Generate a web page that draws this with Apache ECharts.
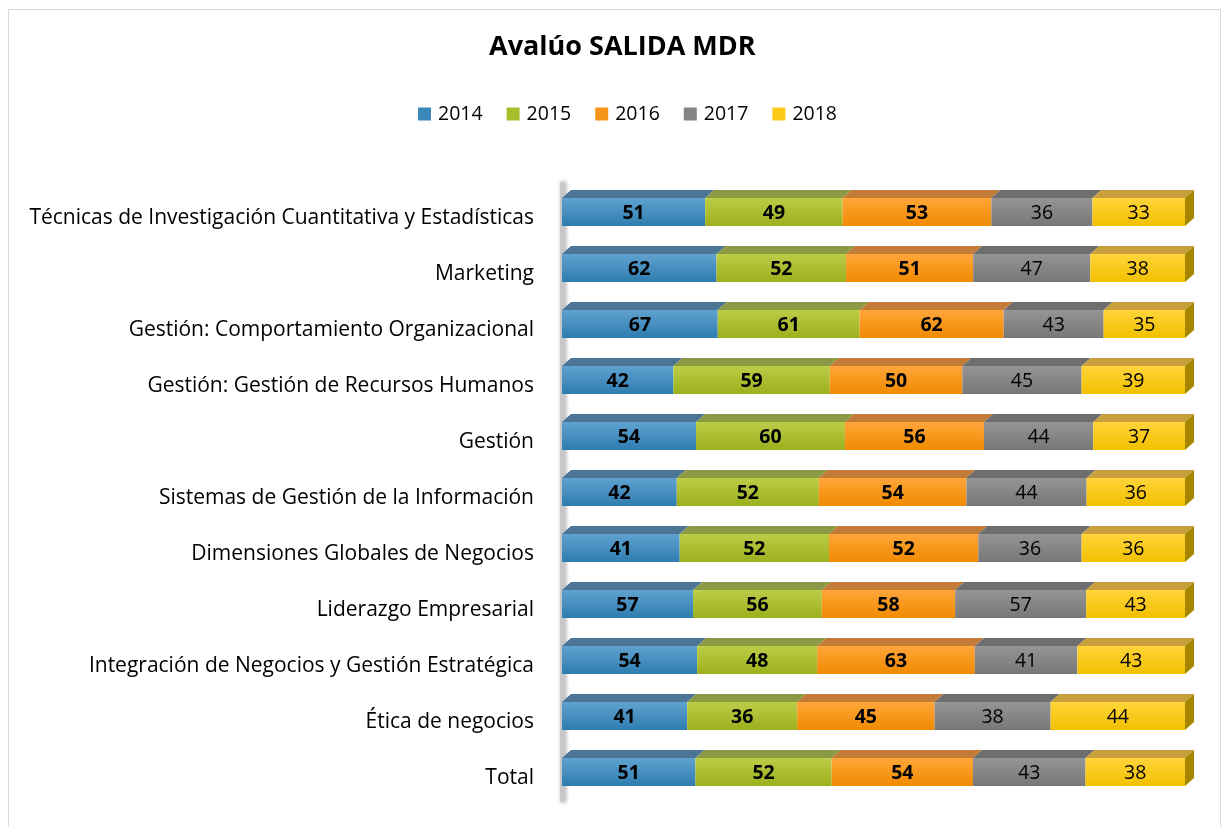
<!DOCTYPE html>
<html>
<head>
<meta charset="utf-8">
<script src="https://cdn.jsdelivr.net/npm/echarts@6/dist/echarts.min.js"></script>
<style>
html,body{margin:0;padding:0;background:#fff;}
#chart{width:1225px;height:827px;position:relative;}
#frame{position:absolute;left:8px;top:9px;width:1213px;height:830px;border:1px solid #d9d9d9;box-sizing:border-box;pointer-events:none;}
</style>
</head>
<body>
<div id="chart"></div>
<div id="frame"></div>
<script>
const categories = [
  "Técnicas de Investigación Cuantitativa y Estadísticas",
  "Marketing",
  "Gestión: Comportamiento Organizacional",
  "Gestión: Gestión de Recursos Humanos",
  "Gestión",
  "Sistemas de Gestión de la Información",
  "Dimensiones Globales de Negocios",
  "Liderazgo Empresarial",
  "Integración de Negocios y Gestión Estratégica",
  "Ética de negocios",
  "Total"
];
const years = ["2014", "2015", "2016", "2017", "2018"];
const v2014 = [51, 62, 67, 42, 54, 42, 41, 57, 54, 41, 51];
const v2015 = [49, 52, 61, 59, 60, 52, 52, 56, 48, 36, 52];
const v2016 = [53, 51, 62, 50, 56, 54, 52, 58, 63, 45, 54];
const v2017 = [36, 47, 43, 45, 44, 44, 36, 57, 41, 38, 43];
const v2018 = [33, 38, 35, 39, 37, 36, 36, 43, 43, 44, 38];
const seriesValues = [v2014, v2015, v2016, v2017, v2018];

const styles = [
  {front: ['#5fa2cf', '#2f7cb0'], lid: '#4b7595', side: '#2a5f86', legend: '#3a87bb', bold: true},
  {front: ['#bccd48', '#9bb01c'], lid: '#8c9a45', side: '#7b8a18', legend: '#a9be2c', bold: true},
  {front: ['#ffa53a', '#f08a00'], lid: '#c37c38', side: '#b56800', legend: '#f7941a', bold: true},
  {front: ['#959595', '#777777'], lid: '#6e6e6e', side: '#5a5a5a', legend: '#858585', bold: false},
  {front: ['#ffd43a', '#f2c000'], lid: '#c9a03c', side: '#a88700', legend: '#fbc916', bold: false}
];

// Build 100%-stacked segments from the values
const totals = categories.map((c, i) => seriesValues.reduce((s, arr) => s + arr[i], 0));
const cum = categories.map(() => 0);
const segData = seriesValues.map(arr => arr.map((v, i) => {
  const start = cum[i] / totals[i] * 100;
  cum[i] += v;
  const end = cum[i] / totals[i] * 100;
  return [start, i, end, v];
}));

const FRONT = 28, DX = 9, DY = 8;
const FONT = '"Open Sans", "Noto Sans", sans-serif';

function makeRender(si) {
  const st = styles[si];
  const last = si === styles.length - 1;
  return function (params, api) {
    const s = api.coord([api.value(0), api.value(1)]);
    const e = api.coord([api.value(2), api.value(1)]);
    const x0 = s[0], x1 = e[0], cy = s[1];
    const top = cy - FRONT / 2, bot = cy + FRONT / 2;
    const children = [
      {
        type: 'polygon',
        shape: {points: [[x0, top], [x0 + DX, top - DY], [x1 + DX, top - DY], [x1, top]]},
        style: {fill: st.lid}
      },
      {
        type: 'rect',
        shape: {x: x0, y: top, width: x1 - x0, height: FRONT},
        style: {
          fill: new echarts.graphic.LinearGradient(0, 0, 0, 1, [
            {offset: 0, color: st.front[0]}, {offset: 1, color: st.front[1]}
          ])
        }
      }
    ];
    if (last) {
      children.push({
        type: 'polygon',
        shape: {points: [[x1, top], [x1 + DX, top - DY], [x1 + DX, bot - DY], [x1, bot]]},
        style: {fill: st.side}
      });
    }
    children.push({
      type: 'text',
      style: {
        text: String(api.value(3)),
        x: (x0 + x1) / 2, y: cy + 1,
        align: 'center', verticalAlign: 'middle',
        fill: '#000', font: (st.bold ? 'bold ' : '') + '19.5px ' + FONT
      }
    });
    return {type: 'group', children: children};
  };
}

const chart = echarts.init(document.getElementById('chart'), null, {renderer: 'canvas'});
chart.setOption({
  backgroundColor: '#fff',
  animation: false,
  title: {
    text: 'Avalúo SALIDA MDR',
    left: 484, top: 29,
    textStyle: {fontFamily: FONT, fontSize: 27, fontWeight: 'bold', color: '#000'}
  },
  legend: {
    top: 99, left: 413,
    icon: 'rect', itemWidth: 13, itemHeight: 13, itemGap: 24,
    textStyle: {fontFamily: FONT, fontSize: 19.5, color: '#000', padding: [0, 0, 0, 2]},
    data: years
  },
  grid: {left: 562, right: 40, top: 184, bottom: 27},
  xAxis: {type: 'value', min: 0, max: 100, show: false},
  yAxis: {
    type: 'category', data: categories, inverse: true,
    axisTick: {show: false},
    axisLine: {show: true, lineStyle: {color: '#c8c8c8', width: 5, shadowColor: 'rgba(0,0,0,0.35)', shadowBlur: 4, shadowOffsetX: 1}},
    axisLabel: {margin: 28, fontFamily: FONT, fontSize: 21, color: '#000', verticalAlign: 'top', lineHeight: 12},
    splitLine: {show: false}
  },
  series: years.map((y, si) => ({
    name: y,
    type: 'custom',
    renderItem: makeRender(si),
    encode: {x: [0, 2], y: 1},
    itemStyle: {color: styles[si].legend},
    data: segData[si]
  }))
});
</script>
</body>
</html>
